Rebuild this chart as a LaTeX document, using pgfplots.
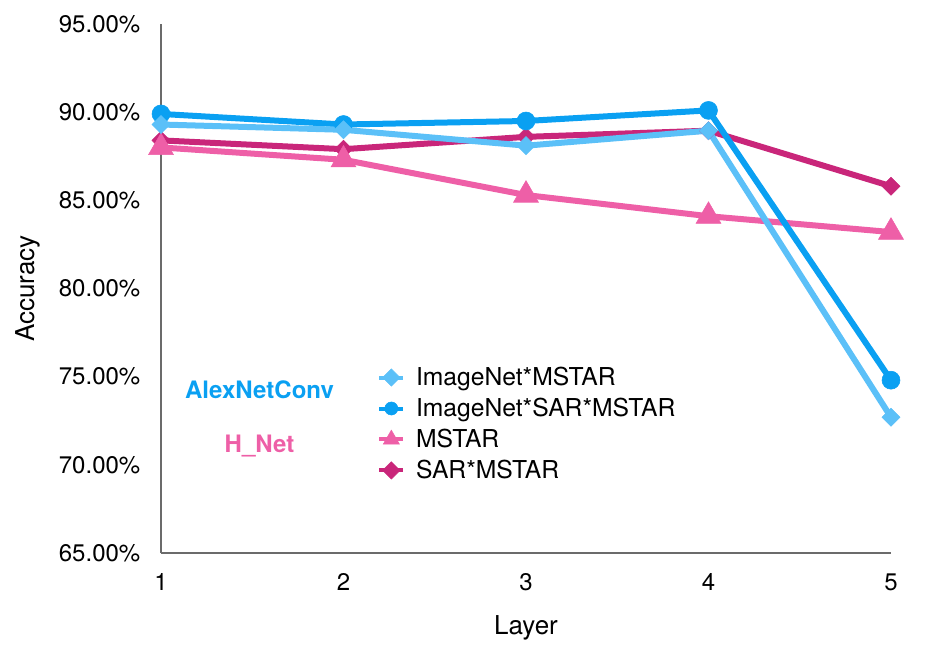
\documentclass[border=0pt]{standalone}
\usepackage{pgfplots}
\pgfplotsset{compat=1.18}
\usepackage{fontspec}
\setmainfont{TeX Gyre Heros}

\definecolor{lightblue}{HTML}{5BC0F8}
\definecolor{deepblue}{HTML}{0AA0F2}
\definecolor{pink}{HTML}{EE5FA7}
\definecolor{magenta}{HTML}{C9267A}
\definecolor{axisgray}{HTML}{6B6B6B}

\begin{document}
\begin{tikzpicture}
\path[use as bounding box] (-120.75pt,-83.25pt) rectangle (583.5pt,414.75pt);
\begin{axis}[
  scale only axis,
  width=547.5pt, height=396.75pt,
  xmin=1, xmax=5, ymin=65, ymax=95,
  axis lines=left,
  axis line style={draw=axisgray, line width=1pt, -},
  clip=false,
  xtick={1,2,3,4,5},
  ytick={65,70,75,80,85,90,95},
  major tick length=0pt,
  /pgf/number format/assume math mode=true,
  tick label style={font=\fontsize{18}{21}\selectfont},
  yticklabel={\pgfmathprintnumber[fixed,fixed zerofill,precision=2]{\tick}\%},
  yticklabel style={anchor=east, xshift=-12pt},
  xticklabel style={anchor=north, yshift=-12pt},
  xlabel={Layer}, ylabel={Accuracy},
  label style={font=\fontsize{19.5}{22}\selectfont},
  xlabel style={at={(axis description cs:0.5,-0.142)}, anchor=center},
  ylabel style={at={(axis description cs:-0.182,0.5)}, anchor=center, rotate=0},
  every axis plot/.append style={mark options={line width=0.4pt}},
  legend image code/.code={
    \draw[#1, mark repeat=2, mark phase=2]
      plot coordinates {(0pt,0pt) (9pt,0pt) (18pt,0pt)};},
  legend style={draw=none, fill=none, font=\fontsize{18.5}{21}\selectfont,
    at={(axis description cs:0.296,0.354)}, anchor=north west,
    row sep=5.9pt, inner sep=0pt,
    nodes={inner xsep=2pt, inner ysep=1pt},
    /tikz/every odd column/.append style={column sep=6pt}},
  legend cell align=left,
]
% legend entries (smaller markers than in the plot)
\addlegendimage{lightblue, line width=3pt, mark=square*, mark size=4.6pt, mark options={rotate=45, line width=0.4pt}}
\addlegendentry{ImageNet*MSTAR}
\addlegendimage{deepblue, line width=3pt, mark=*, mark size=4.9pt, mark options={line width=0.4pt}}
\addlegendentry{ImageNet*SAR*MSTAR}
\addlegendimage{pink, line width=3pt, mark=triangle*, mark size=7pt, mark options={line width=0.4pt}}
\addlegendentry{MSTAR}
\addlegendimage{magenta, line width=3pt, mark=square*, mark size=4.6pt, mark options={rotate=45, line width=0.4pt}}
\addlegendentry{SAR*MSTAR}

% H_Net series
\addplot[forget plot, magenta, line width=4.5pt, mark=square*, mark size=4.8pt, mark options={rotate=45, line width=0.4pt}]
  coordinates {(1,88.4) (2,87.9) (3,88.6) (4,88.95) (5,85.8)};
\addplot[forget plot, pink, line width=4.5pt, mark=triangle*, mark size=10.8pt, mark options={line width=0.4pt}]
  coordinates {(1,88.0) (2,87.3) (3,85.3) (4,84.1) (5,83.2)};
% AlexNetConv series
\addplot[forget plot, deepblue, line width=4.5pt, mark=*, mark size=6.75pt, mark options={line width=0.4pt}]
  coordinates {(1,89.9) (2,89.3) (3,89.5) (4,90.1) (5,74.8)};
\addplot[forget plot, lightblue, line width=4.5pt, mark=square*, mark size=4.8pt, mark options={rotate=45, line width=0.4pt}]
  coordinates {(1,89.3) (2,89.0) (3,88.1) (4,88.95) (5,72.7)};

\node[font=\bfseries\fontsize{18}{21}\selectfont, text=deepblue] at (axis cs:1.54,74.25) {AlexNetConv};
\node[font=\bfseries\fontsize{18}{21}\selectfont, text=pink] at (axis cs:1.54,71.05) {H\_Net};
\end{axis}
\end{tikzpicture}
\end{document}
